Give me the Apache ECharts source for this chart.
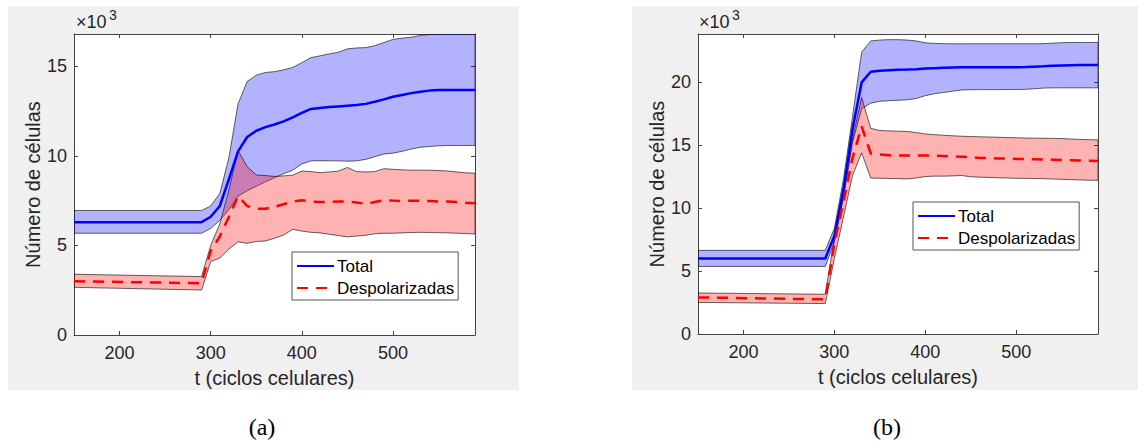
<!DOCTYPE html>
<html><head><meta charset="utf-8">
<script src="https://cdn.jsdelivr.net/npm/echarts@6/dist/echarts.min.js"></script>
<style>
html,body{margin:0;padding:0;background:#fff;}
#wrap{position:relative;width:1138px;height:441px;overflow:hidden;}
.pg{position:absolute;background:#f0f0f0;}
#c{position:absolute;left:0;top:0;width:1138px;height:441px;}
</style>
</head><body>
<div id="wrap">
<div class="pg" style="left:8px;top:6px;width:511px;height:384px;"></div>
<div class="pg" style="left:632px;top:6px;width:506px;height:384px;"></div>
<div id="c"></div>
</div>
<script>
// time (ciclos celulares)
const T = [150,290,300,310,320,330,340,350,360,370,380,390,400,410,420,430,440,450,460,470,480,490,500,510,520,530,540,550,560,570,580,590];
// panel (a) values (x10^3)
const totalA = [6.3,6.3,6.6,7.2,8.7,10.25,11.05,11.4,11.6,11.75,11.92,12.15,12.4,12.62,12.67,12.72,12.76,12.8,12.84,12.9,13.02,13.15,13.3,13.4,13.5,13.58,13.64,13.67,13.68,13.68,13.68,13.68];
const totalUpA = [6.95,6.95,7.2,7.9,9.9,12.9,14.15,14.5,14.65,14.7,14.8,14.93,15.2,15.48,15.58,15.69,15.78,15.97,16.02,16.04,16.15,16.32,16.5,16.57,16.62,16.72,16.77,16.79,16.8,16.8,16.8,16.8];
const totalLoA = [5.68,5.68,5.95,6.4,7.0,7.75,8.05,8.3,8.55,8.78,9.0,9.2,9.55,9.72,9.73,9.72,9.72,9.7,9.72,9.8,9.95,10.1,10.15,10.25,10.38,10.48,10.52,10.56,10.58,10.58,10.58,10.58];
const depA = [3.0,2.89,4.7,5.5,6.6,7.75,7.2,7.05,7.05,7.15,7.3,7.45,7.52,7.45,7.42,7.42,7.45,7.45,7.4,7.32,7.42,7.52,7.5,7.48,7.5,7.5,7.48,7.45,7.45,7.42,7.38,7.35];
const depUpA = [3.39,3.26,5.0,6.2,8.1,10.3,9.4,8.93,8.9,8.85,8.88,8.92,9.15,9.12,9.06,9.1,9.15,9.35,9.12,9.1,9.12,9.28,9.25,9.22,9.2,9.2,9.2,9.18,9.15,9.1,9.05,9.03];
const depLoA = [2.66,2.51,4.1,4.3,4.8,5.2,5.12,5.22,5.25,5.4,5.58,5.9,5.8,5.73,5.7,5.62,5.55,5.48,5.52,5.57,5.65,5.68,5.68,5.7,5.72,5.73,5.72,5.71,5.7,5.68,5.66,5.64];
// panel (b) values (x10^3)
const totalB = [6.0,6.0,7.8,11.5,16.3,20.0,20.85,20.93,20.97,21.0,21.02,21.05,21.1,21.13,21.16,21.18,21.2,21.2,21.2,21.2,21.2,21.2,21.2,21.22,21.25,21.28,21.32,21.35,21.37,21.38,21.38,21.38];
const totalUpB = [6.65,6.65,8.4,12.3,17.3,22.4,23.3,23.37,23.4,23.4,23.37,23.3,23.15,23.1,23.08,23.07,23.07,23.07,23.07,23.07,23.07,23.07,23.07,23.07,23.07,23.08,23.12,23.16,23.18,23.18,23.18,23.18];
const totalLoB = [5.37,5.37,7.3,10.8,15.2,17.9,18.35,18.5,18.55,18.58,18.62,18.72,18.95,19.1,19.2,19.3,19.4,19.42,19.43,19.43,19.43,19.44,19.44,19.45,19.5,19.55,19.57,19.57,19.57,19.57,19.57,19.57];
const depB = [2.91,2.75,7.2,10.5,14.0,16.5,14.35,14.27,14.22,14.2,14.2,14.2,14.2,14.18,14.15,14.12,14.1,14.05,14.0,13.98,13.96,13.94,13.92,13.9,13.9,13.88,13.86,13.84,13.82,13.8,13.78,13.76];
const depUpB = [3.26,3.16,7.6,11.0,15.5,18.8,16.35,16.18,16.15,16.12,16.1,16.02,15.9,15.85,15.8,15.76,15.72,15.7,15.68,15.66,15.64,15.62,15.6,15.58,15.57,15.56,15.55,15.54,15.5,15.47,15.45,15.43];
const depLoB = [2.51,2.42,6.0,9.3,12.6,14.4,12.4,12.38,12.37,12.35,12.33,12.4,12.52,12.55,12.55,12.57,12.6,12.5,12.47,12.45,12.42,12.4,12.38,12.37,12.36,12.35,12.32,12.3,12.27,12.25,12.23,12.22];
// tick labels
const xTicks = [200,300,400,500];
const yTicksA = [0,5,10,15];
const yTicksB = [0,5,10,15,20];
const names = ['Total','Despolarizadas'];

const FONT = '"Liberation Sans", Arial, Helvetica, sans-serif';
const TXT = '#262626';
const AXC = '#444444';

function band(gi, up, lo, fill) {
  return {
    type: 'custom', name: 'band', xAxisIndex: gi*2, yAxisIndex: gi*2, silent: true, clip: true, z: 2,
    data: [[T[0], lo[0]]],
    renderItem: function (params, api) {
      const pts = [];
      for (let i = 0; i < T.length; i++) pts.push(api.coord([T[i], up[i]]));
      for (let i = T.length - 1; i >= 0; i--) pts.push(api.coord([T[i], lo[i]]));
      return { type: 'polygon', shape: { points: pts }, style: { fill: fill, stroke: 'rgba(0,0,0,0.6)', lineWidth: 1 } };
    }
  };
}
function line(gi, name, arr, color, type) {
  return {
    type: 'line', name: name, xAxisIndex: gi*2, yAxisIndex: gi*2, z: 5,
    data: T.map((t, i) => [t, arr[i]]), symbol: 'none', showSymbol: false,
    lineStyle: { color: color, width: 2.5, type: type, cap: 'butt' }, itemStyle: { color: color }
  };
}
function xAxes(gi) {
  const base = { type: 'value', gridIndex: gi, min: 150, max: 590, splitLine: { show: false },
    axisLine: { show: true, onZero: false, lineStyle: { color: AXC, width: 1 } },
    axisTick: { show: true, inside: true, length: 4, customValues: xTicks, lineStyle: { color: AXC } } };
  return [
    Object.assign({}, base, { position: 'bottom',
      axisLabel: { customValues: xTicks, fontSize: 18, color: TXT, fontFamily: FONT, margin: 9 },
      name: 't (ciclos celulares)', nameLocation: 'middle', nameGap: 33,
      nameTextStyle: { fontSize: 20, color: TXT, fontFamily: FONT } }),
    Object.assign({}, base, { position: 'top', axisLabel: { show: false } })
  ];
}
function yAxes(gi, ymax, ticks) {
  const base = { type: 'value', gridIndex: gi, min: 0, max: ymax, splitLine: { show: false },
    axisLine: { show: true, onZero: false, lineStyle: { color: AXC, width: 1 } },
    axisTick: { show: true, inside: true, length: 4, customValues: ticks, lineStyle: { color: AXC } } };
  return [
    Object.assign({}, base, { position: 'left',
      axisLabel: { customValues: ticks, fontSize: 18, color: TXT, fontFamily: FONT, margin: 7 },
      name: 'Número de células', nameLocation: 'middle', nameGap: 31, nameRotate: 90,
      nameTextStyle: { fontSize: 20, color: TXT, fontFamily: FONT } }),
    Object.assign({}, base, { position: 'right', axisLabel: { show: false } })
  ];
}
function legend(left, top) {
  return { data: names, orient: 'vertical', left: left, top: top, backgroundColor: '#fff',
    borderColor: '#555', borderWidth: 1, borderRadius: 0, padding: [5, 4, 3, 4], itemGap: 4,
    itemWidth: 37, itemHeight: 14, selectedMode: false,
    itemStyle: { color: 'rgba(0,0,0,0)', borderColor: 'rgba(0,0,0,0)', borderWidth: 0, opacity: 0 },
    textStyle: { fontSize: 17, color: '#000', fontFamily: FONT, lineHeight: 18, padding: [0,0,0,-2] } };
}
function expo(x) {
  return [
    { type: 'text', left: x, top: 13, style: { text: '×10', fontSize: 18, fill: TXT, fontFamily: FONT } },
    { type: 'text', left: x + 33, top: 8, style: { text: '3', fontSize: 14, fill: TXT, fontFamily: FONT } }
  ];
}

const chart = echarts.init(document.getElementById('c'), null, { renderer: 'svg' });
chart.setOption({
  animation: false,
  backgroundColor: 'transparent',
  grid: [
    { left: 74, top: 34, width: 401, height: 301, show: true, backgroundColor: '#fff', borderWidth: 0 },
    { left: 698, top: 34, width: 400, height: 300, show: true, backgroundColor: '#fff', borderWidth: 0 }
  ],
  xAxis: xAxes(0).concat(xAxes(1)),
  yAxis: yAxes(0, 16.8, yTicksA).concat(yAxes(1, 23.85, yTicksB)),
  legend: [legend(292, 252), legend(913, 202)],
  graphic: expo(76).concat(expo(699)).concat([
    { type: 'text', x: 262, y: 427, style: { text: '(a)', fontSize: 24, fill: '#000', fontFamily: '"Liberation Serif", "Times New Roman", serif', align: 'center', verticalAlign: 'middle' } },
    { type: 'text', x: 887, y: 427, style: { text: '(b)', fontSize: 24, fill: '#000', fontFamily: '"Liberation Serif", "Times New Roman", serif', align: 'center', verticalAlign: 'middle' } }
  ]),
  series: [
    band(0, totalUpA, totalLoA, 'rgba(0,0,255,0.3)'),
    band(0, depUpA, depLoA, 'rgba(255,0,0,0.3)'),
    line(0, 'Total', totalA, '#0000ff', 'solid'),
    line(0, 'Despolarizadas', depA, '#ff0000', [11, 8]),
    band(1, totalUpB, totalLoB, 'rgba(0,0,255,0.3)'),
    band(1, depUpB, depLoB, 'rgba(255,0,0,0.3)'),
    line(1, 'Total', totalB, '#0000ff', 'solid'),
    line(1, 'Despolarizadas', depB, '#ff0000', [11, 8])
  ]
});
</script>
</body></html>
